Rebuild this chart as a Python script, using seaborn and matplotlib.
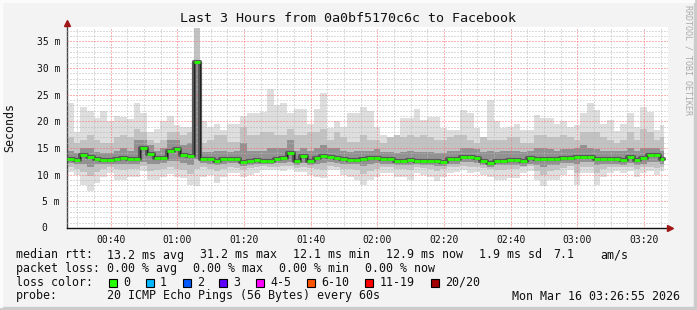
import numpy as np
import matplotlib
matplotlib.use("Agg")
import matplotlib.pyplot as plt
from matplotlib.patches import Rectangle
from matplotlib.ticker import FixedLocator, MultipleLocator
import seaborn as sns

# ---------------- data ----------------
start_time = "00:26:55"
step_minutes = 2
end_minute = 179

median_ms = [
    13.0, 12.75, 13.6, 13.4, 12.9, 12.75, 12.75, 12.9, 13.2, 12.9,
    12.9, 15.0, 13.9, 13.1, 13.2, 14.5, 14.75, 13.6, 13.5, 31.2,
    13.0, 12.9, 12.6, 12.9, 12.9, 13.0, 12.4, 12.5, 12.7, 12.6,
    12.6, 13.0, 13.1, 14.1, 12.6, 13.5, 12.5, 13.1, 13.5, 13.4,
    13.2, 13.0, 12.75, 12.8, 12.9, 13.1, 13.2, 12.9, 12.9, 12.5,
    12.5, 12.75, 12.6, 12.6, 12.5, 12.5, 12.4, 13.0, 13.0, 13.4,
    13.4, 13.2, 12.6, 12.25, 12.6, 12.6, 12.75, 12.75, 12.5, 13.1,
    12.9, 13.0, 13.0, 12.9, 13.2, 13.2, 13.4, 13.4, 13.4, 13.0,
    13.0, 13.0, 13.0, 12.75, 13.4, 12.75, 13.2, 13.6, 13.6, 13.0,
]
smoke_max = [
    23.5, 18.0, 22.75, 22.0, 20.6, 22.0, 20.0, 21.0, 20.9, 20.5,
    23.5, 21.5, 18.0, 18.5, 20.0, 21.0, 19.3, 19.0, 19.0, 37.5,
    20.0, 19.0, 19.6, 18.4, 19.6, 19.6, 21.0, 21.5, 21.5, 21.8,
    26.0, 23.0, 23.5, 21.5, 22.4, 22.4, 19.6, 22.4, 25.25, 18.7,
    20.0, 19.0, 21.5, 21.5, 22.75, 22.0, 19.0, 17.5, 17.1, 17.5,
    20.6, 20.6, 22.4, 20.25, 20.9, 20.9, 18.7, 18.4, 18.4, 22.1,
    21.5, 18.7, 16.8, 24.0, 20.0, 18.7, 19.0, 19.6, 18.4, 18.4,
    21.2, 20.6, 20.6, 19.6, 20.0, 19.0, 19.3, 21.5, 23.4, 22.1,
    19.6, 20.25, 18.1, 19.6, 21.5, 19.0, 22.75, 21.8, 18.4, 19.3,
]
smoke_upper = [
    17.0, 16.0, 16.5, 17.5, 16.5, 16.0, 16.0, 17.0, 17.5, 17.0,
    18.5, 18.0, 16.5, 16.0, 16.5, 18.0, 18.0, 17.5, 18.0, 37.5,
    16.0, 16.5, 17.5, 17.5, 16.2, 16.2, 19.0, 17.5, 17.5, 18.0,
    18.0, 17.5, 17.5, 18.5, 17.5, 17.5, 18.0, 18.0, 18.5, 16.5,
    18.0, 17.0, 16.2, 16.2, 17.5, 16.5, 16.5, 16.0, 17.0, 17.5,
    17.0, 17.5, 17.0, 17.5, 17.0, 16.5, 16.5, 17.0, 17.5, 17.5,
    16.5, 16.0, 17.0, 16.5, 16.5, 16.5, 17.0, 17.0, 16.0, 16.0,
    17.5, 17.5, 17.0, 17.0, 17.5, 17.0, 16.5, 18.0, 18.0, 18.0,
    17.0, 16.5, 16.0, 16.5, 18.0, 16.5, 18.5, 18.0, 16.5, 17.0,
]
smoke_core_top = [
    14.5, 14.0, 15.0, 15.0, 14.2, 14.0, 14.0, 14.5, 15.0, 14.5,
    16.5, 16.5, 15.5, 14.5, 15.0, 16.5, 16.5, 15.5, 16.0, 31.5,
    14.2, 14.2, 14.5, 14.5, 14.2, 14.5, 16.0, 14.5, 14.5, 14.5,
    15.0, 15.0, 15.0, 16.5, 14.5, 15.0, 14.5, 15.0, 15.5, 15.0,
    15.0, 14.5, 14.2, 14.5, 14.5, 14.5, 14.8, 14.2, 14.2, 14.0,
    14.2, 14.5, 14.2, 14.2, 14.2, 14.0, 14.0, 14.5, 14.5, 15.0,
    15.0, 14.8, 14.2, 14.5, 14.2, 14.5, 14.5, 14.5, 14.2, 14.5,
    15.0, 15.0, 14.8, 14.5, 14.8, 14.8, 15.0, 15.5, 15.0, 14.8,
    14.5, 14.5, 14.5, 14.5, 15.0, 14.5, 15.0, 15.0, 15.0, 14.5,
]
smoke_core_bottom = [
    12.2, 12.0, 12.0, 11.5, 12.0, 12.0, 12.0, 12.0, 12.0, 12.0,
    12.0, 12.4, 12.0, 12.0, 12.2, 12.5, 12.5, 12.2, 11.8, 13.0,
    12.2, 12.0, 11.8, 12.0, 12.2, 12.2, 11.6, 11.8, 12.0, 12.0,
    12.0, 12.2, 12.2, 12.4, 11.8, 12.2, 11.8, 12.0, 12.2, 12.4,
    12.2, 12.0, 12.0, 12.0, 11.6, 12.0, 12.2, 12.0, 12.0, 11.8,
    11.8, 11.8, 12.0, 11.8, 11.8, 11.6, 11.6, 12.0, 12.0, 12.4,
    12.4, 12.2, 11.8, 11.5, 11.8, 11.8, 11.8, 11.8, 11.6, 12.0,
    11.8, 11.4, 11.8, 11.8, 12.2, 12.2, 12.0, 12.4, 12.4, 11.8,
    12.0, 12.0, 12.0, 11.8, 12.2, 11.8, 12.0, 12.4, 12.4, 12.0,
]
smoke_lower = [
    11.5, 11.0, 10.5, 9.8, 10.5, 11.0, 11.4, 11.0, 10.8, 11.0,
    11.0, 11.6, 10.6, 10.8, 11.0, 11.4, 11.0, 10.8, 10.2, 11.0,
    11.5, 11.0, 10.6, 11.0, 11.4, 11.2, 10.8, 11.2, 11.4, 11.6,
    11.4, 11.5, 11.6, 11.6, 11.2, 11.5, 11.2, 11.0, 10.8, 11.6,
    11.5, 11.0, 11.0, 10.8, 10.2, 10.6, 11.0, 11.4, 11.4, 11.0,
    11.0, 10.8, 11.4, 11.2, 11.0, 10.6, 11.0, 11.4, 11.5, 11.6,
    11.4, 11.5, 11.2, 11.0, 10.8, 10.8, 11.0, 11.0, 11.4, 11.6,
    10.6, 10.0, 10.6, 10.8, 11.2, 11.6, 10.4, 11.4, 11.4, 10.4,
    11.0, 11.4, 11.5, 11.4, 11.5, 11.0, 11.4, 11.5, 11.2, 11.5,
]
smoke_min = [
    10.5, 10.0, 8.1, 7.0, 8.4, 9.6, 10.25, 9.0, 9.0, 9.5,
    9.5, 10.6, 9.0, 9.0, 9.6, 10.2, 9.6, 9.3, 8.0, 7.8,
    9.5, 10.0, 8.5, 9.6, 10.25, 10.25, 9.6, 10.0, 10.4, 10.9,
    10.9, 10.9, 10.6, 11.0, 10.5, 10.5, 10.0, 9.6, 9.3, 10.9,
    10.9, 9.9, 9.6, 9.0, 8.0, 9.0, 9.6, 10.25, 10.25, 9.6,
    9.6, 9.0, 10.25, 10.0, 9.6, 8.8, 9.6, 10.25, 10.5, 10.9,
    10.25, 10.5, 10.0, 9.6, 9.0, 9.0, 9.3, 9.3, 10.25, 10.6,
    9.0, 7.9, 9.0, 9.0, 9.9, 10.9, 8.0, 10.25, 10.25, 8.0,
    9.6, 10.25, 10.6, 10.25, 10.6, 9.6, 10.25, 10.6, 9.9, 10.6,
]
xtick_labels = ["00:40", "01:00", "01:20", "01:40", "02:00", "02:20",
                "02:40", "03:00", "03:20"]
ytick_values = [5, 10, 15, 20, 25, 30, 35]
ytick_labels = ["5 m", "10 m", "15 m", "20 m", "25 m", "30 m", "35 m"]

title = "Last 3 Hours from 0a0bf5170c6c to Facebook"
rtt_items = ["13.2 ms avg", "31.2 ms max", "12.1 ms min", "12.9 ms now",
             "1.9 ms sd", "7.1", "am/s"]
loss_items = ["0.00 % avg", "0.00 % max", "0.00 % min", "0.00 % now"]
loss_labels = ["0", "1", "2", "3", "4-5", "6-10", "11-19", "20/20"]
loss_colors = ["#26ff00", "#00b8ff", "#0059ff", "#5e00ff", "#ff00fe",
               "#ff5500", "#ff0000", "#a10000"]
probe_text = "20 ICMP Echo Pings (56 Bytes) every 60s"
date_text = "Mon Mar 16 03:26:55 2026"
watermark = "RRDTOOL / TOBI OETIKER"

# ---------------- derived ----------------
def to_min(s):
    p = [int(v) for v in s.split(":")]
    return p[0] * 60 + p[1] + (p[2] / 60 if len(p) > 2 else 0)

t0 = to_min(start_time)
n = len(median_ms)
xs = np.append(np.arange(n) * step_minutes, end_minute).astype(float)

def ext(a):
    a = np.asarray(a, float)
    return np.append(a, a[-1])

# ---------------- style ----------------
sns.set_theme(style="white")
plt.rcParams["font.family"] = ["DejaVu Sans Mono"]
W, H = 697, 310
fig = plt.figure(figsize=(W / 100, H / 100), dpi=100, facecolor="#f3f3f3")

# frame shading
fig.patches.append(Rectangle((0, 0), 1, 3 / H, transform=fig.transFigure,
                             color="#cbcbcb", zorder=0))
fig.patches.append(Rectangle((1 - 3 / W, 0), 3 / W, 1, transform=fig.transFigure,
                             color="#cbcbcb", zorder=0))
fig.patches.append(Rectangle((0, 1 - 2 / H), 1 - 3 / W, 2 / H, transform=fig.transFigure,
                             color="#fbfbfb", zorder=0))
fig.patches.append(Rectangle((0, 3 / H), 2 / W, 1 - 5 / H, transform=fig.transFigure,
                             color="#fbfbfb", zorder=0))

L, R, T, B = 67, 668, 27, 228
ax = fig.add_axes([L / W, 1 - B / H, (R - L) / W, (B - T) / H])
ax.set_facecolor("white")
ax.set_xlim(0, 180.3)
ax.set_ylim(0, 37.7)

# smoke
ax.fill_between(xs, ext(smoke_min), ext(smoke_max), step="post",
                color="#dedede", lw=0, zorder=1)
ax.fill_between(xs, ext(smoke_lower), ext(smoke_upper), step="post",
                color="#c2c2c2", lw=0, zorder=1.1)
ax.fill_between(xs, ext(smoke_core_bottom), ext(smoke_core_top), step="post",
                color="#929292", lw=0, zorder=1.2)

# median
sns.lineplot(x=xs, y=ext(median_ms), drawstyle="steps-post", estimator=None,
             color="#5a5a5a", lw=3.0, ax=ax, zorder=3)
sns.lineplot(x=xs, y=ext(median_ms), drawstyle="steps-post", estimator=None,
             color="#222222", lw=0.8, ax=ax, zorder=3.2)
ax.hlines(median_ms, xs[:-1], xs[1:], colors=loss_colors[0], lw=2.0, zorder=4)

# ticks & grid
xt = [to_min(s) - t0 for s in xtick_labels]
ax.xaxis.set_major_locator(FixedLocator(xt))
ax.xaxis.set_minor_locator(FixedLocator(
    [m - t0 for m in np.arange(to_min("00:30"), to_min("03:26"), 5)]))
ax.set_xticks(xt, xtick_labels)
ax.yaxis.set_major_locator(FixedLocator([0] + ytick_values))
ax.yaxis.set_minor_locator(MultipleLocator(1))
ax.set_yticks([0] + ytick_values, [""] + ytick_labels)
ax.set_axisbelow(False)
ax.grid(which="minor", color=(0.72, 0.72, 0.72, 0.6), linestyle=(0, (1, 2)),
        lw=0.72)
ax.grid(which="major", color=(1.0, 0.4, 0.4, 0.6), linestyle=(0, (1, 2)),
        lw=0.72)
ax.tick_params(which="both", labelsize=7, colors="#444444", labelcolor="#111111",
               direction="out", width=0.8)
ax.tick_params(which="major", length=3, pad=2)
ax.tick_params(which="minor", length=2)
for s in ("top", "right"):
    ax.spines[s].set_visible(False)
ax.spines["left"].set_color("#444444")
ax.spines["bottom"].set_color("#111111")
ax.spines["left"].set_linewidth(1.0)
ax.spines["bottom"].set_linewidth(1.0)
ax.set_xlabel("")
ax.set_ylabel("")
ax.plot([0], [38.5], marker="^", ms=5, color="#a01515", clip_on=False, zorder=6)
ax.plot([181.0], [0], marker=">", ms=5, color="#a01515", clip_on=False, zorder=6)

# ---------------- texts ----------------
def ftxt(x, y, s, **kw):
    kw.setdefault("fontsize", 8.4)
    kw.setdefault("va", "center")
    kw.setdefault("color", "#111111")
    fig.text(x / W, 1 - y / H, s, **kw)

ftxt(348, 18, title, ha="center", fontsize=9.6)
ftxt(47, 228, "0", ha="right", fontsize=7)
ftxt(10, 127, "Seconds", ha="center", rotation=90)
ftxt(688, 5, watermark, ha="center", va="top", rotation=270, fontsize=6,
     color="#aaaaaa")

rtt_x = [107.3, 200, 293.3, 386, 479.3, 553.3, 600]
ftxt(16, 255, "median rtt:")
for x, s in zip(rtt_x, rtt_items):
    ftxt(x, 255, s)

loss_x = [107.3, 193.3, 279.3, 365]
ftxt(16, 268.3, "packet loss:")
for x, s in zip(loss_x, loss_items):
    ftxt(x, 268.3, s)

box_x = [109, 146, 182.7, 219.3, 256, 307, 365, 430.7]
lab_x = [123.3, 160, 196.7, 233.3, 270.7, 321.7, 380, 445]
ftxt(16, 282.3, "loss color:")
for bx, lx, c, s in zip(box_x, lab_x, loss_colors, loss_labels):
    fig.patches.append(Rectangle((bx / W, 1 - 286.5 / H), 8 / W, 8 / H,
                                 transform=fig.transFigure, facecolor=c,
                                 edgecolor="black", lw=0.8, zorder=3))
    ftxt(lx, 282.3, s)

ftxt(16, 296, "probe:")
ftxt(107.3, 296, probe_text)
ftxt(680, 296, date_text, ha="right")

fig.savefig("out.png", dpi=100, facecolor=fig.get_facecolor())
